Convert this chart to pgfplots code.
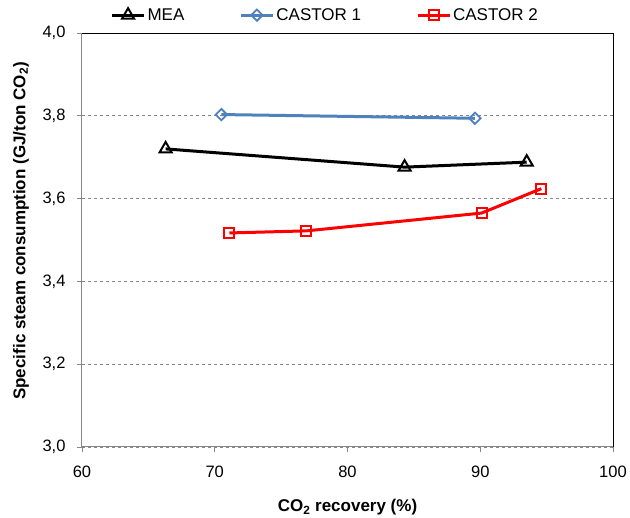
\documentclass[border=0pt]{standalone}
\usepackage{pgfplots}
\pgfplotsset{compat=1.18}
\usepackage{fontspec}
\setmainfont{Liberation Sans}
\definecolor{cblue}{RGB}{79,129,189}
\definecolor{gridc}{RGB}{134,134,134}
\begin{document}
\begin{tikzpicture}
\path[use as bounding box] (0pt,0pt) rectangle (630pt,518pt);
\begin{axis}[
  at={(82pt,71pt)}, anchor=south west,
  width=531pt, height=414pt, scale only axis,
  xmin=60, xmax=100, ymin=3.0, ymax=4.0,
  xtick={60,70,...,100}, ytick={3.0,3.2,...,4.0},
  /pgf/number format/assume math mode=true,
  yticklabel style={/pgf/number format/.cd, fixed, fixed zerofill, precision=1, use comma},
  xticklabel style={/pgf/number format/.cd, fixed, precision=0},
  tick label style={font=\fontsize{16.5}{18}\selectfont},
  tick align=outside, tick pos=left,
  major tick length=5pt,
  tick style={gridc, line width=0.8pt},
  axis line style={draw=none},
  ymajorgrids, grid style={gridc, dashed, line width=0.7pt},
  xticklabel shift=10pt, yticklabel shift=8pt,
  xlabel={\bfseries CO\textsubscript{2} recovery (\%)},
  ylabel={\bfseries Specific steam consumption (GJ/ton CO\textsubscript{2})},
  label style={font=\fontsize{17}{19}\selectfont\bfseries},
  xlabel style={at={(axis description cs:0.5,-0.146)}, anchor=center},
  ylabel style={at={(axis description cs:-0.115,0.522)}, anchor=center},
  legend style={at={(axis description cs:0.458,1.043)}, anchor=center, draw=none, fill=none, legend columns=3,
    font=\fontsize{17}{19}\selectfont, /tikz/every even column/.append style={column sep=53pt},
    nodes={inner xsep=2pt}},
  legend image code/.code={\draw[mark repeat=2, mark phase=2, #1] plot coordinates {(0pt,0pt) (16pt,0pt) (32pt,0pt)};},
  legend cell align=left,
  clip=false,
]
\addplot[black, line width=3pt, mark=triangle, mark size=7pt, mark options={solid, fill=white, line width=2pt}]
  coordinates {(66.3,3.720) (84.3,3.676) (93.5,3.688)};
\addlegendentry{MEA}
\addplot[cblue, line width=3pt, mark=square, mark size=4pt, mark options={solid, fill=white, line width=1.8pt, rotate=45}]
  coordinates {(70.5,3.803) (89.6,3.794)};
\addlegendentry{CASTOR 1}
\addplot[red, line width=3pt, mark=square, mark size=5pt, mark options={solid, fill=white, line width=2pt}]
  coordinates {(71.1,3.517) (76.9,3.522) (90.1,3.565) (94.6,3.624)};
\addlegendentry{CASTOR 2}
\draw[gridc, line width=1pt] (rel axis cs:0,1) -- (rel axis cs:0,0) -- (rel axis cs:1,0);
\draw[black, line width=0.6pt] (rel axis cs:0,1) -- (rel axis cs:1,1) -- (rel axis cs:1,0);
\end{axis}
\end{tikzpicture}
\end{document}
